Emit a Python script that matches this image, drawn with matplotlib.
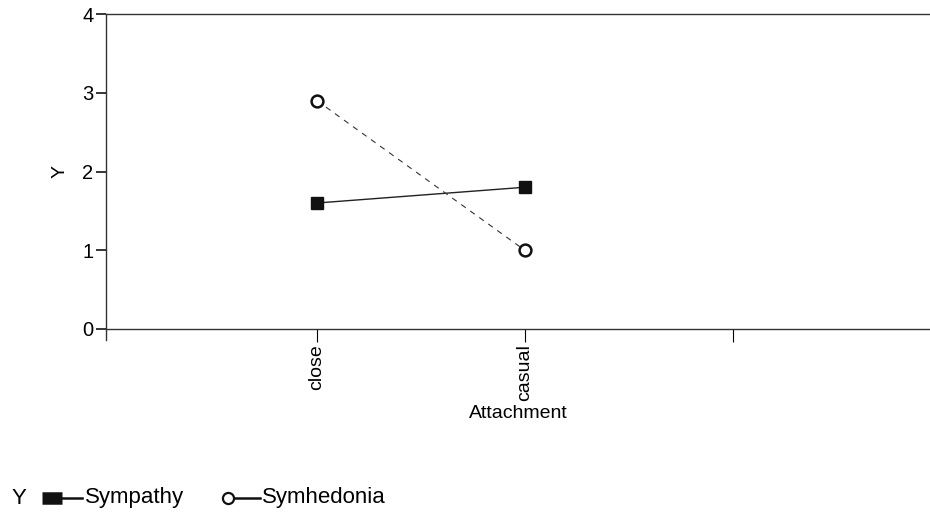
import matplotlib.pyplot as plt
from matplotlib.lines import Line2D

plt.rcParams["font.family"] = ["Liberation Sans", "DejaVu Sans"]

categories = ["close", "casual", ""]
sympathy = [1.6, 1.8]
symhedonia = [2.9, 1.0]

fig = plt.figure(figsize=(9.3, 5.16), dpi=100)
ax = fig.add_axes([106 / 930, 1 - 329 / 516, 824 / 930, 315 / 516])

pos = [1, 2, 3]
ax.plot(pos[:2], sympathy, color="#222222", lw=1.0, marker="s", ms=9,
        mfc="#111111", mec="#111111", clip_on=False)
ax.plot(pos[:2], symhedonia, color="#333333", lw=0.8, ls=(0, (5, 5)),
        marker="o", ms=8.5, mfc="white", mec="#111111", mew=1.8, clip_on=False)

ax.set_xlim(-0.015, 3.95)
ax.set_ylim(0, 4)
ax.set_yticks([0, 1, 2, 3, 4])
ax.set_xticks(pos)
ax.set_xticklabels(categories, rotation=90, fontsize=14)
ax.tick_params(axis="y", labelsize=14.5, length=7, width=1.1, direction="out", pad=2)
ax.tick_params(axis="x", length=9, width=0.8, direction="out", pad=2)

for s in ["left", "bottom", "top"]:
    ax.spines[s].set_color("#333333")
    ax.spines[s].set_linewidth(1.0)
ax.spines["right"].set_visible(False)
ax.spines["left"].set_bounds(-0.14, 4)

ax.set_ylabel("Y", fontsize=14, labelpad=10)
ax.set_xlabel("Attachment", fontsize=14, labelpad=3)

# legend along the bottom
ly = 1 - 498 / 516
fig.text(12 / 930, ly, "Y", fontsize=16, va="center")
fig.add_artist(Line2D([42 / 930, 62 / 930], [ly, ly], color="#111111", lw=9,
                      solid_capstyle="butt"))
fig.add_artist(Line2D([62 / 930, 82 / 930], [ly, ly], color="#111111", lw=1.8))
fig.text(85 / 930, ly, "Sympathy", fontsize=16, va="center")
fig.add_artist(Line2D([228 / 930, 260 / 930], [ly, ly], color="#111111", lw=1.8))
fig.add_artist(Line2D([228 / 930], [ly], marker="o", ms=8, mfc="white",
                      mec="#111111", mew=1.6, ls="none"))
fig.text(262 / 930, ly, "Symhedonia", fontsize=16, va="center")

fig.savefig("out.png", dpi=100)
